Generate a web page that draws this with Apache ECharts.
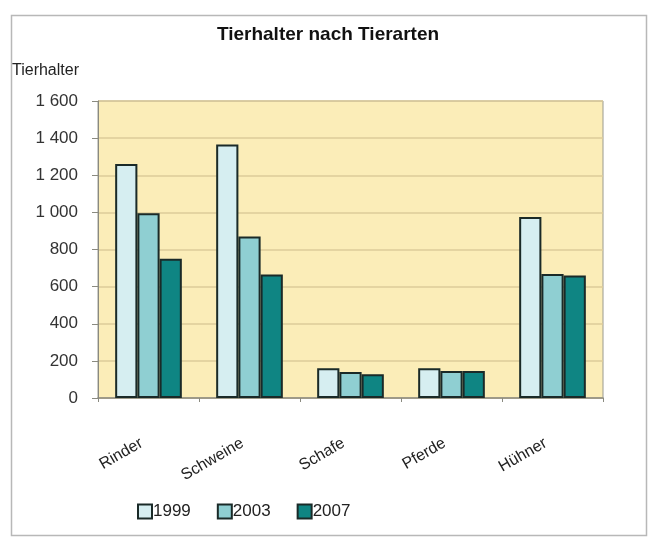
<!DOCTYPE html>
<html>
<head>
<meta charset="utf-8">
<script src="https://cdn.jsdelivr.net/npm/echarts@6/dist/echarts.min.js"></script>
<style>
html,body{margin:0;padding:0;background:#fff;}
#c{width:656px;height:540px;}
</style>
</head>
<body>
<div id="c"></div>
<script>
var categories = ['Rinder', 'Schweine', 'Schafe', 'Pferde', 'Hühner'];
var seriesNames = ['1999', '2003', '2007'];
var values1999 = [1260, 1365, 160, 160, 975];
var values2003 = [995, 870, 140, 145, 668];
var values2007 = [750, 665, 128, 145, 660];
var yTicks = [0, 200, 400, 600, 800, 1000, 1200, 1400, 1600];

var colors = ['#D6EEF1', '#8FCFD2', '#0F8583'];
var FONT = '"Liberation Sans Narrow", "Liberation Sans", Arial, sans-serif';
var dataSets = [values1999, values2003, values2007];

var chart = echarts.init(document.getElementById('c'));
chart.setOption({
  backgroundColor: '#ffffff',
  animation: false,
  title: {
    text: 'Tierhalter nach Tierarten',
    left: 'center',
    top: 20,
    textStyle: {fontFamily: FONT, fontSize: 19, fontWeight: 'bold', color: '#111'}
  },
  graphic: [
    {type: 'rect', shape: {x: 11.5, y: 15.5, width: 635, height: 520}, style: {fill: 'none', stroke: '#b8b8b8', lineWidth: 1.5}, silent: true, z: -1},
    {type: 'text', left: 12, top: 63, style: {text: 'Tierhalter', font: '16px ' + FONT, fill: '#222'}}
  ],
  legend: {
    data: seriesNames,
    left: 132,
    top: 498,
    itemWidth: 14,
    itemHeight: 14,
    itemGap: 26,
    icon: 'rect',
    textStyle: {fontFamily: FONT, fontSize: 17, color: '#222', padding: [0, 0, 0, -4]}
  },
  grid: {left: 98, right: 53, top: 101, bottom: 142, show: true, backgroundColor: '#FBEDB8', borderColor: '#9a9a90', borderWidth: 1},
  xAxis: {
    type: 'category',
    data: categories,
    axisLine: {lineStyle: {color: '#8a8a80', width: 1.5}},
    axisTick: {show: true, length: 4, lineStyle: {color: '#8a8a80'}},
    axisLabel: {rotate: 30, margin: 40, padding: [0, 8, 0, 0], fontFamily: FONT, fontSize: 16, color: '#222'}
  },
  yAxis: {
    type: 'value',
    min: 0, max: 1600, interval: 200,
    axisLine: {show: true, lineStyle: {color: '#8a8a80'}},
    axisTick: {show: true, length: 6, lineStyle: {color: '#8a8a80'}},
    splitLine: {lineStyle: {color: '#DCCB9A', width: 1.5}},
    axisLabel: {
      margin: 20,
      fontFamily: FONT, fontSize: 17, color: '#333',
      formatter: function (v) { return String(v).replace(/\B(?=(\d{3})+(?!\d))/g, ' '); }
    }
  },
  series: seriesNames.map(function (n, i) {
    return {
      name: n,
      type: 'bar',
      data: dataSets[i],
      barGap: '0%',
      barCategoryGap: '34%',
      itemStyle: {color: colors[i], borderColor: '#1a2a28', borderWidth: 2}
    };
  })
});
</script>
</body>
</html>
